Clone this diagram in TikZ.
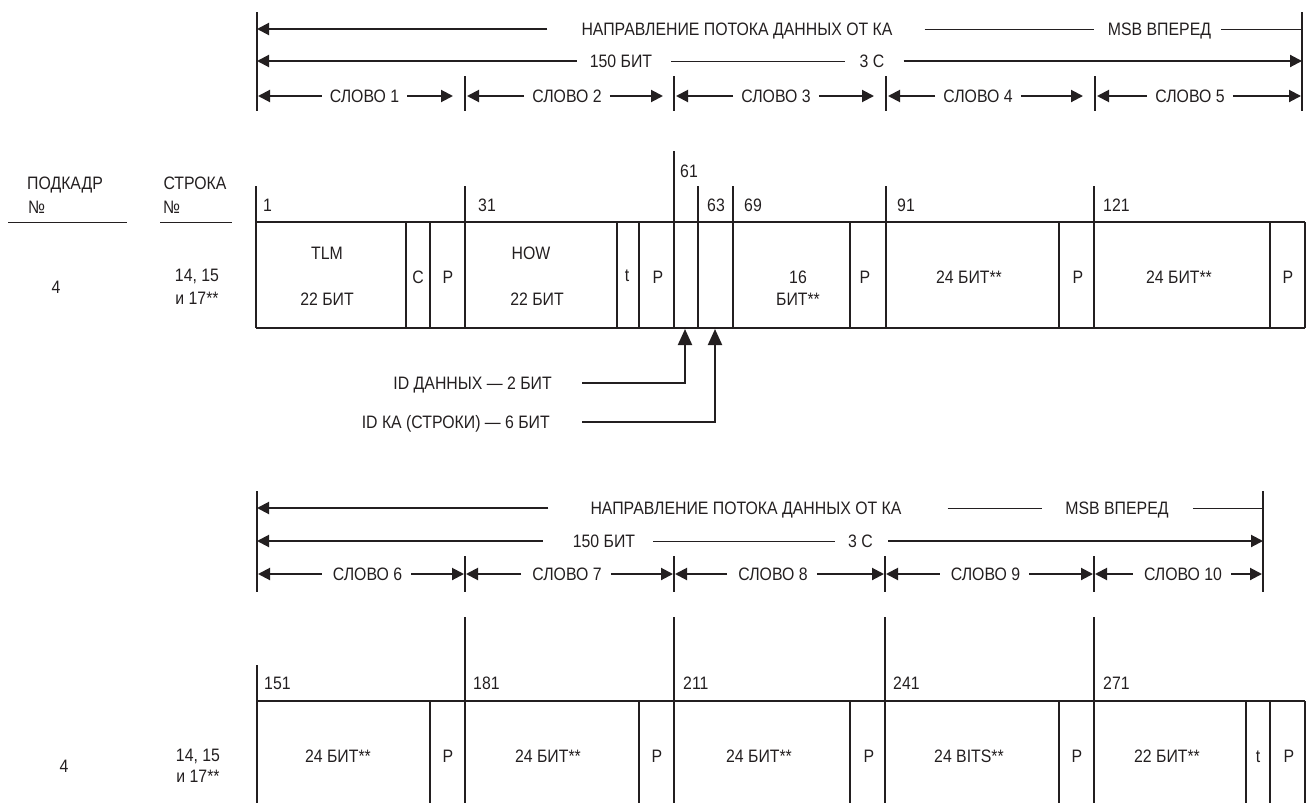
\documentclass[tikz,border=0pt]{standalone}
\usepackage{fontspec}
\setmainfont{Liberation Sans}[FakeStretch=0.88]
\usetikzlibrary{arrows.meta}
\definecolor{ink}{HTML}{231F20}
\begin{document}
\begin{tikzpicture}[x=1pt,y=-1pt,
  every path/.style={draw=ink},
  lbl/.style={inner sep=0pt, text height=12.9pt, text depth=0pt, text=ink, font=\fontsize{18}{20}\selectfont},
  thk/.style={line width=2pt},
  thn/.style={line width=1pt},
  bar/.style={line width=2.4pt},
  frm/.style={line width=1.4pt},
  dv/.style={line width=1.1pt},
  tip/.style={-{Triangle[length=12pt,width=12pt]}},
  uptip/.style={-{Triangle[length=16pt,width=14pt]}},
]
\path[use as bounding box, draw=none] (0,0) rectangle (1308,803);

% ================= TOP SECTION =================
\coordinate (TL) at (257,12);
\coordinate (TR) at (1302,12);
\draw[bar] (TL) -- (257,111);
\draw[bar] (TR) -- (1302,111);

% row 1
\node[lbl] (dirA) at (737,29) {НАПРАВЛЕНИЕ ПОТОКА ДАННЫХ ОТ КА};
\node[lbl] (msbA) at (1159.5,29) {MSB ВПЕРЕД};
\draw[thk,tip] ([xshift=-34pt]dirA.west) -- (dirA.west -| TL);
\draw[thn] ([xshift=32pt]dirA.east) -- ([xshift=-14pt]msbA.west);
\draw[thn] ([xshift=10pt]msbA.east) -- (msbA.east -| TR);

% row 2
\node[lbl] (bitsA) at (621,61) {150 БИТ};
\node[lbl] (secA) at (872,61) {3 С};
\draw[thk,tip] ([xshift=-13pt]bitsA.west) -- (bitsA.west -| TL);
\draw[thn] ([xshift=19pt]bitsA.east) -- ([xshift=-14pt]secA.west);
\draw[thk,tip] ([xshift=19pt]secA.east) -- (secA.east -| TR);

% row 3 : words
\foreach \x in {465,674,886,1095} \draw[dv] (\x,76) -- (\x,111);
\foreach \n/\c/\l/\r in {1/364.5/258/453, 2/567/467/663, 3/776/676/874, 4/978/888/1083, 5/1190/1097/1301}{
  \node[lbl] (w\n) at (\c,96) {СЛОВО \n};
  \draw[thk,tip] ([xshift=-8pt]w\n.west) -- (\l,96);
  \draw[thk,tip] ([xshift=8pt]w\n.east) -- (\r,96);
}

% left header
\node[lbl] (sfh) at (65,183) {ПОДКАДР};
\node[lbl,anchor=west] (sfn) at (28,207) {№};
\draw[thn] (8,222) -- (127,222);
\node[lbl] (lnh) at (195,183) {СТРОКА};
\node[lbl,anchor=west] (lnn) at (163,207) {№};
\draw[thn] (160,222) -- (232,222);
\node[lbl] (sfA) at (56,287) {4};
\node[lbl] (lnA1) at (197,275) {14, 15};
\node[lbl] (lnA2) at (197,298) {и 17**};

% frame 1
\draw[frm] (256,222) -- (1305,222);
\draw[frm] (256,328) -- (1305,328);
\foreach \x in {256,465,698,733,886,1094} \draw[frm] (\x,186) -- (\x,328);
\draw[frm] (674,151) -- (674,328);
\draw[frm] (1305,222) -- (1305,328);
\foreach \x in {406,430,617,639,850,1059,1270} \draw[frm] (\x,222) -- (\x,328);

\node[lbl,anchor=west] (n1) at (263,205) {1};
\node[lbl,anchor=west] (n31) at (478,205) {31};
\node[lbl,anchor=west] (n61) at (680,171) {61};
\node[lbl,anchor=west] (n63) at (707,205) {63};
\node[lbl,anchor=west] (n69) at (744,205) {69};
\node[lbl,anchor=west] (n91) at (897,205) {91};
\node[lbl,anchor=west] (n121) at (1103,205) {121};

\node[lbl] (tlm) at (327,253) {TLM};
\node[lbl] (tlmb) at (327,299) {22 БИТ};
\node[lbl] (c1) at (418,277) {C};
\node[lbl] (p1) at (448,277) {P};
\node[lbl] (how) at (531,253) {HOW};
\node[lbl] (howb) at (537,299) {22 БИТ};
\node[lbl] (t1) at (627,275) {t};
\node[lbl] (p2) at (658,277) {P};
\node[lbl] (s16) at (798,277) {16};
\node[lbl] (s16b) at (798,299) {БИТ**};
\node[lbl] (p3) at (865,277) {P};
\node[lbl] (d4) at (969,277) {24 БИТ**};
\node[lbl] (p4) at (1078,277) {P};
\node[lbl] (d5) at (1179,277) {24 БИТ**};
\node[lbl] (p5) at (1288,277) {P};

% ID arrows
\coordinate (a1) at (685,329);
\coordinate (a2) at (715,329);
\node[lbl,anchor=east] (idd) at (552,383) {ID ДАННЫХ — 2 БИТ};
\node[lbl,anchor=east] (idk) at (550,422) {ID КА (СТРОКИ) — 6 БИТ};
\draw[thk,uptip] ([xshift=30pt]idd.east) -- (idd.east -| a1) -- (a1);
\draw[thk,uptip] ([xshift=32pt]idk.east) -- (idk.east -| a2) -- (a2);

% ================= BOTTOM SECTION =================
\coordinate (BL) at (257,491);
\coordinate (BR) at (1263,491);
\draw[bar] (BL) -- (257,592);
\draw[bar] (BR) -- (1263,592);

\node[lbl] (dirB) at (746,508) {НАПРАВЛЕНИЕ ПОТОКА ДАННЫХ ОТ КА};
\node[lbl] (msbB) at (1117,508) {MSB ВПЕРЕД};
\draw[thk,tip] ([xshift=-42pt]dirB.west) -- (dirB.west -| BL);
\draw[thn] ([xshift=46pt]dirB.east) -- ([xshift=-23pt]msbB.west);
\draw[thn] ([xshift=24pt]msbB.east) -- (msbB.east -| BR);

\node[lbl] (bitsB) at (604,541) {150 БИТ};
\node[lbl] (secB) at (860.5,541) {3 С};
\draw[thk,tip] ([xshift=-30pt]bitsB.west) -- (bitsB.west -| BL);
\draw[thn] ([xshift=18pt]bitsB.east) -- ([xshift=-13pt]secB.west);
\draw[thk,tip] ([xshift=15pt]secB.east) -- (secB.east -| BR);

\foreach \x in {465,674,885,1094} \draw[dv] (\x,556) -- (\x,592);
\foreach \n/\c/\l/\r in {6/367.5/258/464, 7/567/466/673, 8/773/675/884, 9/985.5/886/1093, 10/1183/1095/1262}{
  \node[lbl] (w\n) at (\c,574) {СЛОВО \n};
  \draw[thk,tip] ([xshift=-11pt]w\n.west) -- (\l,574);
  \draw[thk,tip] ([xshift=9pt]w\n.east) -- (\r,574);
}

\node[lbl] (sfB) at (64,766) {4};
\node[lbl] (lnB1) at (198,755) {14, 15};
\node[lbl] (lnB2) at (198,776) {и 17**};

% frame 2
\draw[frm] (257,701) -- (1305,701);
\draw[frm] (257,665) -- (257,803);
\foreach \x in {465,674,885,1094} \draw[frm] (\x,617) -- (\x,803);
\draw[frm] (1305,701) -- (1305,803);
\foreach \x in {430,639,850,1059,1246,1270} \draw[frm] (\x,701) -- (\x,803);

\node[lbl,anchor=west] (n151) at (264,683) {151};
\node[lbl,anchor=west] (n181) at (473,683) {181};
\node[lbl,anchor=west] (n211) at (683,683) {211};
\node[lbl,anchor=west] (n241) at (893,683) {241};
\node[lbl,anchor=west] (n271) at (1103,683) {271};

\node[lbl] (e6) at (338,756) {24 БИТ**};
\node[lbl] (q6) at (448,756) {P};
\node[lbl] (e7) at (548,756) {24 БИТ**};
\node[lbl] (q7) at (657,756) {P};
\node[lbl] (e8) at (759,756) {24 БИТ**};
\node[lbl] (q8) at (869,756) {P};
\node[lbl] (e9) at (969,756) {24 BITS**};
\node[lbl] (q9) at (1077,756) {P};
\node[lbl] (e10) at (1167,756) {22 БИТ**};
\node[lbl] (t10) at (1258,756) {t};
\node[lbl] (q10) at (1289,756) {P};
\end{tikzpicture}
\end{document}
